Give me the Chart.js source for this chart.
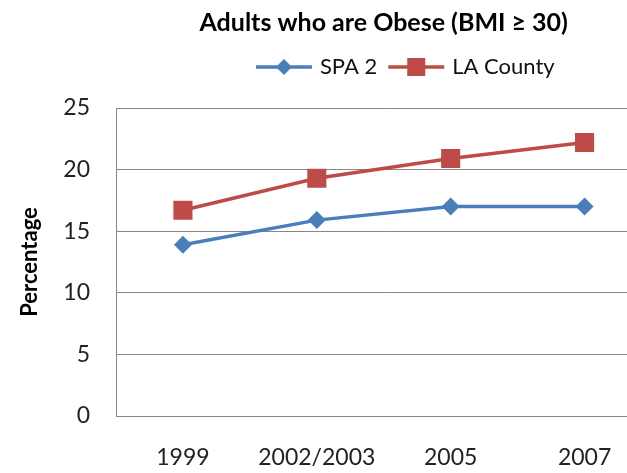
<!DOCTYPE html>
<html lang="en">
<head>
    <meta charset="UTF-8">
    <title>Adults who are Obese</title>
    <script src="https://cdn.jsdelivr.net/npm/chart.js"></script>
    <style>
        html, body {
            margin: 0;
            padding: 0;
            background: #fff;
            overflow: hidden;
        }
        .chart-box {
            position: relative;
            width: 665px;
            height: 473px;
        }
    </style>
</head>
<body>
    <div class="chart-box">
        <canvas id="obesityChart"></canvas>
    </div>
    <script>
        // Data
        const years = ['1999', '2002/2003', '2005', '2007'];
        const spa2 = [13.9, 15.9, 17.0, 17.0];
        const laCounty = [16.7, 19.3, 20.9, 22.2];
        const yTicks = [0, 5, 10, 15, 20, 25];

        const FONT = 'Lato, "Open Sans", sans-serif';
        const BLUE = '#4a7ebb';
        const RED = '#be4b48';

        // legend icon: a line with the marker on top, like Excel
        function legendIcon(color, style) {
            const c = document.createElement('canvas');
            c.width = 58;
            c.height = 22;
            const ctx = c.getContext('2d');
            ctx.strokeStyle = color;
            ctx.lineWidth = 3.5;
            ctx.beginPath();
            ctx.moveTo(1, 11);
            ctx.lineTo(57, 11);
            ctx.stroke();
            ctx.fillStyle = color;
            if (style === 'diamond') {
                ctx.beginPath();
                ctx.moveTo(29, 3);
                ctx.lineTo(37, 11);
                ctx.lineTo(29, 19);
                ctx.lineTo(21, 11);
                ctx.closePath();
                ctx.fill();
            } else {
                ctx.fillRect(20, 2, 18, 18);
            }
            return c;
        }

        const icons = [legendIcon(BLUE, 'diamond'), legendIcon(RED, 'square')];

        // extra room under the legend, and nudge it a bit to the right
        const legendTweak = {
            id: 'legendTweak',
            afterInit(chart) {
                const legend = chart.legend;
                const fit = legend.fit;
                legend.fit = function () {
                    fit.call(this);
                    this.height += 20;
                };
            },
            afterLayout(chart) {
                chart.legend.left += 23;
                chart.legend.right += 23;
            }
        };

        new Chart(document.getElementById('obesityChart'), {
            type: 'line',
            data: {
                labels: years,
                datasets: [
                    {
                        label: 'SPA 2',
                        data: spa2,
                        borderColor: BLUE,
                        backgroundColor: BLUE,
                        borderWidth: 3.5,
                        pointStyle: 'rectRot',
                        pointRadius: 9,
                        pointBorderWidth: 0,
                        tension: 0
                    },
                    {
                        label: 'LA County',
                        data: laCounty,
                        borderColor: RED,
                        backgroundColor: RED,
                        borderWidth: 3.5,
                        pointStyle: 'rect',
                        pointRadius: 13.5,
                        pointBorderWidth: 0,
                        tension: 0
                    }
                ]
            },
            options: {
                responsive: true,
                maintainAspectRatio: false,
                animation: false,
                layout: { padding: 0 },
                scales: {
                    x: {
                        offset: true,
                        grid: { display: false, drawTicks: false },
                        border: { color: '#868686', width: 1 },
                        ticks: {
                            color: '#222',
                            font: { family: FONT, size: 23 },
                            padding: 28,
                            maxRotation: 0
                        },
                        afterFit: axis => { axis.height = 57; }
                    },
                    y: {
                        min: 0,
                        max: 25,
                        afterBuildTicks: axis => {
                            axis.ticks = yTicks.map(v => ({ value: v }));
                        },
                        grid: { color: '#868686', lineWidth: 1, drawTicks: false },
                        border: { color: '#868686', width: 1 },
                        ticks: {
                            color: '#222',
                            font: { family: FONT, size: 23 },
                            padding: 26
                        },
                        title: {
                            display: true,
                            text: 'Percentage',
                            color: '#000',
                            font: { family: FONT, size: 22, weight: 'bold' },
                            padding: { top: 17, bottom: 0 }
                        },
                        afterFit: axis => { axis.width = 116; }
                    }
                },
                plugins: {
                    title: {
                        display: true,
                        text: 'Adults who are Obese (BMI \u2265 30)',
                        color: '#000',
                        fullSize: false,
                        font: { family: FONT, size: 25, weight: 'bold' },
                        padding: { top: 8, bottom: 4 }
                    },
                    legend: {
                        display: true,
                        position: 'top',
                        fullSize: false,
                        labels: {
                            color: '#111',
                            font: { family: FONT, size: 22 },
                            usePointStyle: true,
                            pointStyleWidth: 50,
                            padding: 14,
                            generateLabels: chart => chart.data.datasets.map((ds, i) => ({
                                text: ds.label,
                                pointStyle: icons[i],
                                fillStyle: ds.borderColor,
                                strokeStyle: ds.borderColor,
                                lineWidth: 0,
                                hidden: false,
                                datasetIndex: i,
                                fontColor: '#111'
                            }))
                        }
                    },
                    tooltip: { enabled: false }
                }
            },
            plugins: [legendTweak]
        });
    </script>
</body>
</html>
